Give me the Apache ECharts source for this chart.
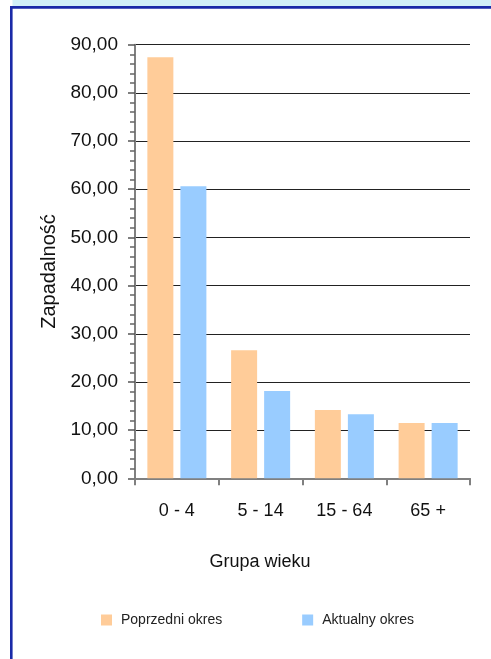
<!DOCTYPE html>
<html>
<head>
<meta charset="utf-8">
<script src="https://cdn.jsdelivr.net/npm/echarts@6/dist/echarts.min.js"></script>
<style>html,body{margin:0;padding:0;background:#fff;}#c{width:491px;height:659px;}</style>
</head>
<body>
<div id="c"></div>
<script>
var categories = ['0 - 4', '5 - 14', '15 - 64', '65 +'];
var previousPeriod = [87.4, 26.6, 14.2, 11.5];
var currentPeriod = [60.6, 18.1, 13.3, 11.5];
var seriesNames = ['Poprzedni okres', 'Aktualny okres'];
var yAxisName = 'Zapadalność';
var xAxisName = 'Grupa wieku';

var chart = echarts.init(document.getElementById('c'));
var font = 'Liberation Sans, Arial, sans-serif';
chart.setOption({
  animation: false,
  textStyle: { fontFamily: font },
  graphic: [
    { type: 'rect', shape: { x: 12.5, y: 0, width: 480, height: 6 }, style: { fill: '#d2f0f8' } },
    { type: 'rect', shape: { x: 10, y: 6, width: 481, height: 2.8 }, style: { fill: '#1a2aa8' } },
    { type: 'rect', shape: { x: 10, y: 6, width: 2.6, height: 653 }, style: { fill: '#1a2aa8' } }
  ],
  grid: { left: 135, right: 21, top: 44.7, bottom: 180.7 },
  legend: {
    left: 96, top: 608,
    itemWidth: 11, itemHeight: 11, itemGap: 80,
    icon: 'rect',
    textStyle: { fontSize: 14, color: '#222', fontFamily: font, padding: [0, 0, 0, 4] },
    data: seriesNames
  },
  xAxis: {
    type: 'category',
    data: categories,
    name: xAxisName,
    nameLocation: 'middle',
    nameGap: 75,
    nameTextStyle: { fontSize: 18, color: '#111', padding: [0, 85, 0, 0] },
    axisLine: { lineStyle: { color: '#808080', width: 2 } },
    axisTick: { show: true, length: 7, lineStyle: { color: '#808080', width: 2 } },
    axisLabel: { fontSize: 18, color: '#111', margin: 24 }
  },
  yAxis: {
    type: 'value',
    min: 0, max: 90, interval: 10,
    name: yAxisName,
    nameLocation: 'middle',
    nameGap: 75,
    nameRotate: 90,
    nameTextStyle: { fontSize: 20, color: '#111', padding: [0, 20, 0, 0] },
    axisLine: { show: true, lineStyle: { color: '#808080', width: 2 } },
    axisTick: { show: true, length: 7, lineStyle: { color: '#555', width: 1.5 } },
    minorTick: { show: true, splitNumber: 5, length: 5, lineStyle: { color: '#666', width: 1.5 } },
    splitLine: { show: true, lineStyle: { color: '#222', width: 1 } },
    axisLabel: {
      fontSize: 19, color: '#111', margin: 17,
      formatter: function (v) { return v.toFixed(2).replace('.', ','); }
    }
  },
  series: [
    { name: seriesNames[0], type: 'bar', data: previousPeriod, barWidth: 26, barGap: '27%', itemStyle: { color: '#ffcc99' } },
    { name: seriesNames[1], type: 'bar', data: currentPeriod, barWidth: 26, barGap: '27%', itemStyle: { color: '#99ccff' } }
  ]
});
</script>
</body>
</html>
